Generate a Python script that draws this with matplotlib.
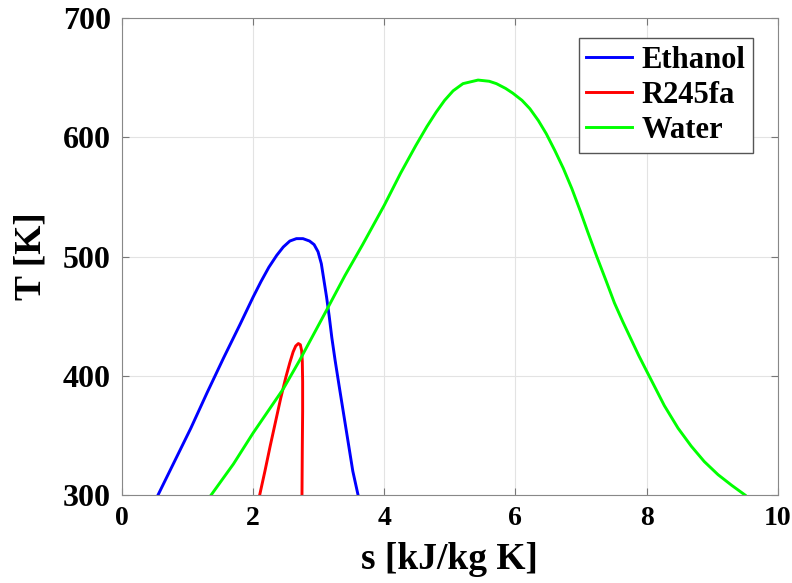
import matplotlib.pyplot as plt

# saturation domes (s in kJ/kg K, T in K)
ethanol_s = [0.55, 0.80, 1.05, 1.30, 1.55, 1.80, 2.00, 2.12, 2.24, 2.36, 2.46, 2.56, 2.66,
             2.76, 2.86, 2.93, 2.99, 3.04, 3.08, 3.12, 3.16, 3.20, 3.25, 3.31, 3.38, 3.45,
             3.52, 3.60]
ethanol_T = [300, 328, 356, 386, 415, 443, 466, 479, 491, 501, 508, 513, 515,
             515, 513, 510, 504, 494, 480, 466, 450, 432, 413, 392, 368, 344,
             320, 300]

r245fa_s = [2.10, 2.18, 2.26, 2.34, 2.42, 2.50, 2.56, 2.61, 2.65, 2.69, 2.72, 2.74, 2.75,
            2.755, 2.755, 2.75, 2.745]
r245fa_T = [300, 320, 341, 361, 381, 399, 411, 420, 425, 427, 426, 421, 412,
            395, 370, 340, 300]

water_s = [1.36, 1.70, 2.00, 2.46, 2.71, 3.12, 3.40, 3.67, 4.00, 4.25, 4.48, 4.65, 4.79,
           4.92, 5.05, 5.20, 5.43, 5.60, 5.71, 5.85, 5.96, 6.10, 6.22, 6.35, 6.47, 6.60,
           6.73, 6.86, 6.99, 7.10, 7.24, 7.38, 7.51, 7.64, 7.76, 7.88, 8.00, 8.14, 8.27,
           8.48, 8.68, 8.88, 9.09, 9.30, 9.50]
water_T = [300, 326, 352, 389, 413, 455, 484, 510, 543, 570, 593, 609, 621,
           631, 639, 645, 648, 647, 645, 641, 637, 631, 624, 614, 603, 589,
           574, 557, 538, 521, 500, 480, 461, 445, 431, 417, 404, 389, 375,
           356, 341, 328, 317, 308, 300]

plt.rcParams['font.family'] = 'Liberation Serif'
plt.rcParams['font.weight'] = 'bold'

fig = plt.figure(figsize=(7.92, 5.83), dpi=100)
ax = fig.add_axes([0.154, 0.151, 0.828, 0.818])

ax.plot(ethanol_s, ethanol_T, color='#0000ff', lw=2.1, label='Ethanol')
ax.plot(r245fa_s, r245fa_T, color='#ff0000', lw=2.1, label='R245fa')
ax.plot(water_s, water_T, color='#00ff00', lw=2.1, label='Water')

ax.set_xlim(0, 10)
ax.set_ylim(300, 700)
ax.set_xticks([0, 2, 4, 6, 8, 10])
ax.set_yticks([300, 400, 500, 600, 700])
ax.grid(True, color='#e3e3e3', lw=0.8)
ax.tick_params(direction='in', top=True, right=True, color='#777777', length=5, pad=8)
ax.tick_params(axis='x', labelsize=20)
ax.tick_params(axis='y', labelsize=23)
for sp in ax.spines.values():
    sp.set_color('#888888')

ax.set_xlabel('s [kJ/kg K]', fontsize=27, fontweight='bold', labelpad=8)
ax.set_ylabel('T [K]', fontsize=27, fontweight='bold', labelpad=10)

leg = ax.legend(loc='upper right', fontsize=22, fancybox=False, framealpha=1,
                edgecolor='#555555', handlelength=1.5, handletextpad=0.3,
                borderpad=0.25, labelspacing=0.2, borderaxespad=0,
                bbox_to_anchor=(0.962, 0.958))
leg.get_frame().set_linewidth(1.0)
for t in leg.get_texts():
    t.set_fontweight('bold')

fig.savefig('out.png', dpi=100)
